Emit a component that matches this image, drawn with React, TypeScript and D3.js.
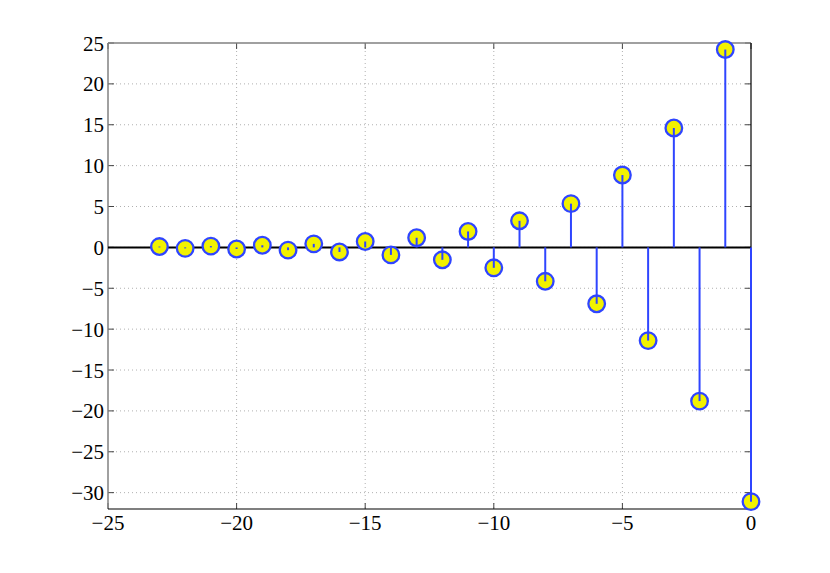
import React from "react";
import * as d3 from "d3";

const nValues = [-23, -22, -21, -20, -19, -18, -17, -16, -15, -14, -13, -12, -11, -10, -9, -8, -7, -6, -5, -4, -3, -2, -1, 0];
const yValues = [0.1, -0.12, 0.16, -0.2, 0.26, -0.34, 0.43, -0.56, 0.72, -0.92, 1.18, -1.52, 1.95, -2.5, 3.25, -4.15, 5.35, -6.9, 8.85, -11.4, 14.6, -18.8, 24.2, -31.1];
const xTicks = [-25, -20, -15, -10, -5, 0];
const yTicks = [-30, -25, -20, -15, -10, -5, 0, 5, 10, 15, 20, 25];

const W = 830, H = 573;
const L = 108, R = 751, T = 43, B = 509;

export default function App() {
  const x = d3.scaleLinear().domain([-25, 0]).range([L, R]);
  const y = d3.scaleLinear().domain([-32, 25]).range([B, T]);
  const fmt = (v: number) => (v < 0 ? "\u2212" + Math.abs(v) : String(v));
  const blue = "#2f45ff";
  const font = "'Liberation Serif', 'Times New Roman', serif";
  const r = 8.3;
  return (
    <svg width={W} height={H} style={{ position: "absolute", left: 0, top: 0, background: "#fff" }}>
      <rect x={0} y={0} width={W} height={H} fill="#fff" />
      {xTicks.filter(t => t !== -25 && t !== 0).map(t => (
        <line key={"gx" + t} x1={x(t)} x2={x(t)} y1={T} y2={B} stroke="#b0b0b0" strokeWidth={1} strokeDasharray="1,3" />
      ))}
      {yTicks.filter(t => t !== 25).map(t => (
        <line key={"gy" + t} x1={L} x2={R} y1={y(t)} y2={y(t)} stroke="#b0b0b0" strokeWidth={1} strokeDasharray="1,3" />
      ))}
      {xTicks.map(t => (
        <g key={"tx" + t}>
          <line x1={x(t)} x2={x(t)} y1={B} y2={B - 6} stroke="#444" strokeWidth={1} />
          <line x1={x(t)} x2={x(t)} y1={T} y2={T + 6} stroke="#444" strokeWidth={1} />
          <text x={x(t)} y={B + 21} textAnchor="middle" fontFamily={font} fontSize={21} fill="#000">{fmt(t)}</text>
        </g>
      ))}
      {yTicks.map(t => (
        <g key={"ty" + t}>
          <line x1={L} x2={L + 6} y1={y(t)} y2={y(t)} stroke="#444" strokeWidth={1} />
          <line x1={R} x2={R - 6} y1={y(t)} y2={y(t)} stroke="#444" strokeWidth={1} />
          <text x={L - 4} y={y(t) + 7.5} textAnchor="end" fontFamily={font} fontSize={21} fill="#000">{fmt(t)}</text>
        </g>
      ))}
      <line x1={L} x2={R} y1={T} y2={T} stroke="#808080" strokeWidth={1.5} />
      <line x1={L} x2={L} y1={T} y2={B} stroke="#808080" strokeWidth={1.5} />
      <line x1={L} x2={R} y1={B} y2={B} stroke="#000" strokeWidth={1.2} />
      <line x1={R} x2={R} y1={T} y2={B} stroke="#000" strokeWidth={1.2} />
      <line x1={L} x2={R} y1={y(0)} y2={y(0)} stroke="#000" strokeWidth={2} />
      {nValues.map((n, i) => (
        <line key={"s" + n} x1={x(n)} x2={x(n)} y1={y(0)} y2={y(yValues[i])} stroke={blue} strokeWidth={2} />
      ))}
      {nValues.map((n, i) => (
        <circle key={"m" + n} cx={x(n)} cy={y(yValues[i])} r={r} fill="#f2f200" stroke={blue} strokeWidth={2.3} />
      ))}
      {nValues.map((n, i) => (
        <line key={"si" + n} x1={x(n)} x2={x(n)} y1={y(yValues[i])} y2={y(yValues[i]) + (yValues[i] >= 0 ? Math.min(r, y(0) - y(yValues[i])) : -Math.min(r, y(yValues[i]) - y(0)))} stroke={blue} strokeWidth={2} />
      ))}
    </svg>
  );
}
